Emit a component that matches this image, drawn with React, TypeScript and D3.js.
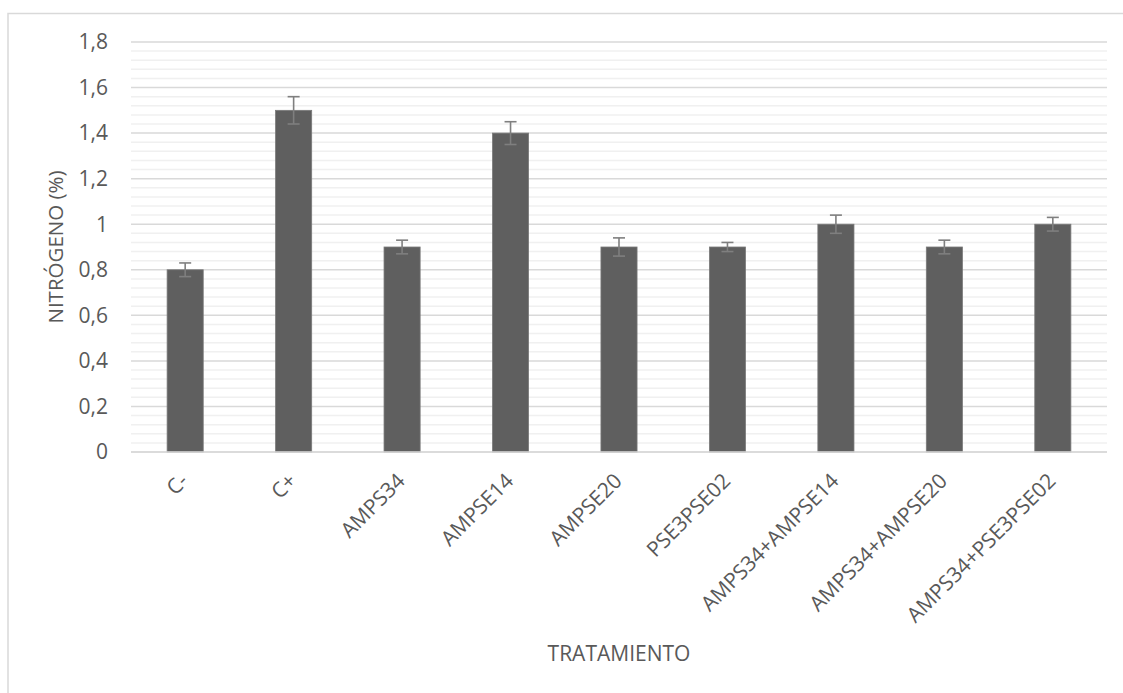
import React from "react";
import * as d3 from "d3";

// Nitrogen content per treatment, with standard error
const categories = [
  "C-",
  "C+",
  "AMPS34",
  "AMPSE14",
  "AMPSE20",
  "PSE3PSE02",
  "AMPS34+AMPSE14",
  "AMPS34+AMPSE20",
  "AMPS34+PSE3PSE02",
];
const values = [0.8, 1.5, 0.9, 1.4, 0.9, 0.9, 1.0, 0.9, 1.0];
const errors = [0.03, 0.06, 0.03, 0.05, 0.04, 0.02, 0.04, 0.03, 0.03];
const yTicks = [0, 0.2, 0.4, 0.6, 0.8, 1, 1.2, 1.4, 1.6, 1.8];

const W = 1123;
const H = 693;
const plot = { left: 131, right: 1107, top: 42, bottom: 452 };
const FONT = "'Open Sans', sans-serif";
const TEXT = "#595959";

export default function App() {
  const x = d3
    .scaleBand<string>()
    .domain(categories)
    .range([plot.left, plot.right])
    .paddingInner(0.667)
    .paddingOuter(0.333);
  const y = d3.scaleLinear().domain([0, 1.8]).range([plot.bottom, plot.top]);
  const minor = d3.range(0, 1.8001, 0.04).filter((v) => Math.abs(v / 0.2 - Math.round(v / 0.2)) > 1e-6);
  const fmt = (v: number) => String(+v.toFixed(1)).replace(".", ",");
  const bw = x.bandwidth();

  return (
    <svg width={W} height={H} style={{ position: "absolute", left: 0, top: 0, background: "#fff" }}>
      <rect x={8} y={13.5} width={1200} height={800} fill="#fff" stroke="#d9d9d9" strokeWidth={1.5} />
      {minor.map((v, i) => (
        <line key={"m" + i} x1={plot.left} x2={plot.right} y1={y(v)} y2={y(v)} stroke="#f0f0f0" strokeWidth={1.5} />
      ))}
      {yTicks.map((v, i) => (
        <g key={"t" + i}>
          <line x1={plot.left} x2={plot.right} y1={y(v)} y2={y(v)} stroke="#d9d9d9" strokeWidth={1.5} />
          <text x={108} y={y(v)} dy="0.35em" textAnchor="end" fontFamily={FONT} fontSize={21} fill={TEXT}>
            {fmt(v)}
          </text>
        </g>
      ))}
      {categories.map((c, i) => {
        const bx = x(c)!;
        const cx = bx + bw / 2;
        const v = values[i];
        const e = errors[i];
        return (
          <g key={c}>
            <rect x={bx} y={y(v)} width={bw} height={y(0) - y(v)} fill="#5f5f5f" stroke="#7a7a7a" strokeWidth={0.8} />
            <g stroke="#7f7f7f" strokeWidth={1.6}>
              <line x1={cx} x2={cx} y1={y(v + e)} y2={y(v - e)} />
              <line x1={cx - 6} x2={cx + 6} y1={y(v + e)} y2={y(v + e)} />
              <line x1={cx - 6} x2={cx + 6} y1={y(v - e)} y2={y(v - e)} />
            </g>
            <text
              transform={`translate(${cx - 1},${477}) rotate(-45)`}
              dy="0.35em"
              textAnchor="end"
              fontFamily={FONT}
              fontSize={21}
              fill={TEXT}
            >
              {c}
            </text>
          </g>
        );
      })}
      <line x1={plot.left} x2={plot.right} y1={y(0)} y2={y(0)} stroke="#d9d9d9" strokeWidth={1.5} />
      <text
        transform={`translate(${56},${(plot.top + plot.bottom) / 2}) rotate(-90)`}
        textAnchor="middle"
        fontFamily={FONT}
        fontSize={20.5}
        fill={TEXT}
        dy="0.35em"
      >
        NITRÓGENO (%)
      </text>
      <text x={619} y={661} textAnchor="middle" fontFamily={FONT} fontSize={21} fill={TEXT}>
        TRATAMIENTO
      </text>
    </svg>
  );
}
